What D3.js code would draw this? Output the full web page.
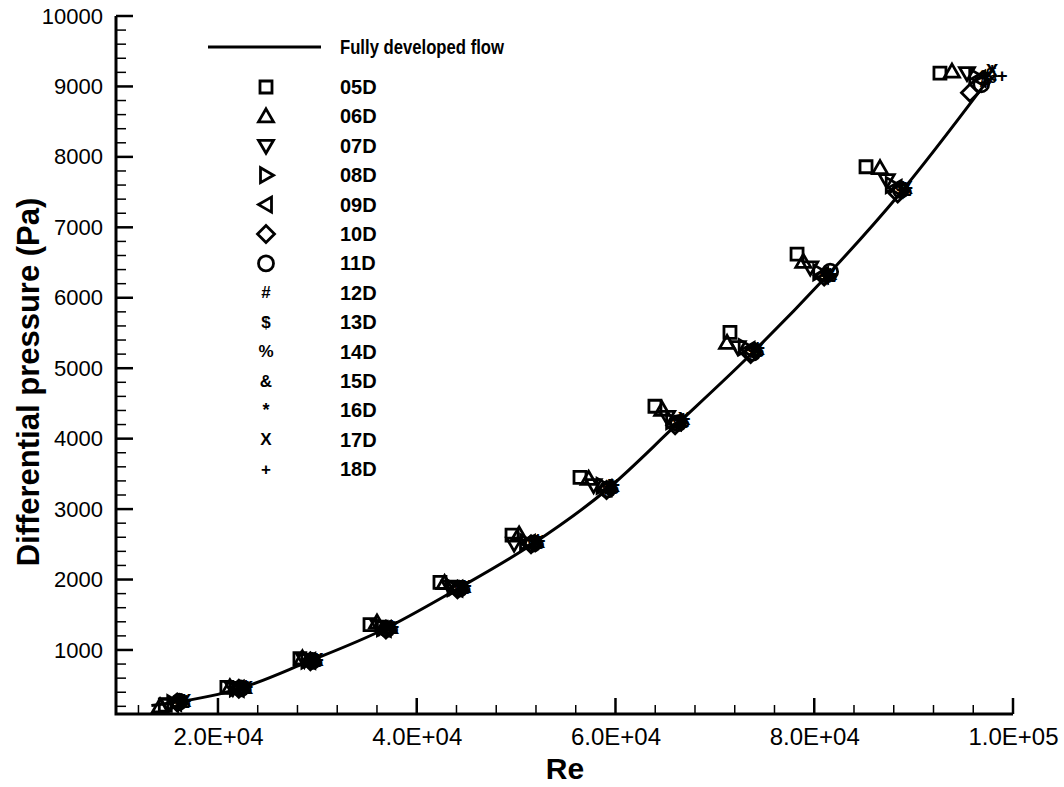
<!DOCTYPE html>
<html><head><meta charset="utf-8">
<script src="https://cdn.jsdelivr.net/npm/d3@7"></script>
<style>
html,body{margin:0;padding:0;background:#fff;}
svg{display:block;}
text{font-family:"Liberation Sans",Arial,sans-serif;fill:#000;}
</style></head>
<body>
<svg id="chart" width="1064" height="787"></svg>
<script>
// ---- data ----
const curveRe = [13300, 16000, 20000, 22000, 29000, 36500, 44000, 51500, 59000, 66000, 73500, 81000, 88500, 97000];
const curveDp = [210, 265, 370, 445, 830, 1280, 1860, 2490, 3260, 4180, 5180, 6270, 7460, 9000];

const seriesNames = ["05D","06D","07D","08D","09D","10D","11D","12D","13D","14D","15D","16D","17D","18D"];
const seriesSymbols = ["square","triUp","triDown","triRight","triLeft","diamond","circle","#","$","%","&","*","X","+"];

const re05 = [14700, 20900, 28250, 35300, 42340, 49590, 56430, 63970, 71520, 78270, 85210, 92650];
const dp05 = [215, 470, 875, 1360, 1960, 2630, 3450, 4460, 5510, 6620, 7860, 9190];
const re06 = [14170, 21200, 28500, 36000, 42800, 50300, 57300, 64700, 71230, 78900, 86620, 93860];
const dp06 = [200, 470, 880, 1390, 1950, 2640, 3430, 4410, 5360, 6510, 7840, 9210];
const re07 = [15000, 21500, 28700, 36200, 43300, 49800, 57800, 65200, 72300, 79600, 87300, 95370];
const dp07 = [230, 460, 860, 1330, 1900, 2510, 3340, 4310, 5300, 6430, 7670, 9190];
const re08 = [15500, 21800, 29000, 36600, 43700, 51000, 58700, 65700, 73000, 80500, 87800, 96200];
const dp08 = [245, 455, 850, 1310, 1880, 2530, 3330, 4250, 5300, 6360, 7600, 9140];
const re09 = [15700, 22000, 29200, 36800, 44000, 51300, 59000, 66000, 73400, 80800, 88200, 96600];
const dp09 = [250, 450, 845, 1300, 1870, 2520, 3300, 4230, 5260, 6320, 7560, 9110];
const re10 = [15900, 22100, 29300, 36900, 44100, 51500, 59100, 66000, 73600, 81000, 88400, 95670];
const dp10 = [255, 450, 840, 1290, 1860, 2500, 3270, 4190, 5200, 6300, 7480, 8910];
const re11 = [16100, 22300, 29500, 37000, 44300, 51700, 59200, 66300, 73800, 81600, 88700, 96800];
const dp11 = [265, 455, 845, 1300, 1870, 2510, 3280, 4220, 5220, 6370, 7530, 9030];
const re12 = [16200, 22400, 29500, 37100, 44400, 51800, 59300, 66400, 73900, 81200, 88800, 97100];
const dp12 = [268, 460, 850, 1310, 1880, 2520, 3290, 4230, 5230, 6290, 7510, 9080];
const re13 = [16300, 22500, 29600, 37200, 44500, 51900, 59400, 66500, 74000, 81300, 88900, 97300];
const dp13 = [270, 462, 852, 1312, 1885, 2525, 3300, 4240, 5240, 6300, 7520, 9110];
const re14 = [16400, 22600, 29700, 37300, 44600, 52000, 59500, 66600, 74100, 81400, 89000, 97500];
const dp14 = [272, 465, 855, 1315, 1890, 2530, 3310, 4250, 5250, 6310, 7530, 9140];
const re15 = [16500, 22700, 29800, 37400, 44700, 52100, 59600, 66700, 74200, 81500, 89100, 97700];
const dp15 = [275, 468, 858, 1320, 1895, 2535, 3320, 4260, 5260, 6320, 7540, 9170];
const re16 = [16600, 22800, 29900, 37500, 44800, 52200, 59700, 66800, 74300, 81600, 89200, 97900];
const dp16 = [278, 470, 860, 1322, 1900, 2540, 3330, 4270, 5270, 6330, 7550, 9200];
const re17 = [16700, 22900, 30000, 37600, 44900, 52300, 59800, 66900, 74400, 81700, 89300, 97890];
const dp17 = [280, 472, 862, 1325, 1905, 2545, 3340, 4280, 5280, 6340, 7560, 9230];
const re18 = [16800, 23000, 30100, 37700, 45000, 52400, 59900, 67000, 74500, 81800, 89400, 98900];
const dp18 = [282, 475, 865, 1330, 1910, 2550, 3350, 4290, 5290, 6350, 7570, 9150];

const seriesRe = [re05,re06,re07,re08,re09,re10,re11,re12,re13,re14,re15,re16,re17,re18];
const seriesDp = [dp05,dp06,dp07,dp08,dp09,dp10,dp11,dp12,dp13,dp14,dp15,dp16,dp17,dp18];

const xMajorTicks = [20000, 40000, 60000, 80000, 100000];
const xTickLabels = ["2.0E+04","4.0E+04","6.0E+04","8.0E+04","1.0E+05"];
const yMajorTicks = [1000,2000,3000,4000,5000,6000,7000,8000,9000,10000];

// ---- layout ----
const svg = d3.select("#chart");
const x = d3.scaleLinear().domain([9740, 100000]).range([116, 1013]);
const y = d3.scaleLinear().domain([91, 10000]).range([714, 16]);

const xMinor = d3.range(12000, 100001, 4000).filter(v => !xMajorTicks.includes(v));
const yMinor = d3.range(200, 10001, 200).filter(v => !yMajorTicks.includes(v));

// axes
const gx = svg.append("g").attr("transform", `translate(0,${y.range()[0]})`);
gx.call(d3.axisBottom(x).tickValues(xMajorTicks).tickSize(0).tickPadding(14)
  .tickFormat((d,i) => xTickLabels[i]));
gx.select(".domain").remove();
gx.selectAll("text").attr("font-size", 24).attr("font-family", "Liberation Sans, Arial, sans-serif");

const gy = svg.append("g").attr("transform", `translate(${x.range()[0]},0)`);
gy.call(d3.axisLeft(y).tickValues(yMajorTicks).tickSize(0).tickPadding(13)
  .tickFormat(d3.format("d")));
gy.select(".domain").remove();
gy.selectAll("text").attr("font-size", 22).attr("font-family", "Liberation Sans, Arial, sans-serif");

// tick marks (pointing inward)
const tk = svg.append("g").attr("stroke", "#000");
tk.selectAll(".xmaj").data(xMajorTicks).join("line")
  .attr("x1", d => x(d)).attr("x2", d => x(d))
  .attr("y1", y.range()[0]).attr("y2", y.range()[0] - 16).attr("stroke-width", 2.5);
tk.selectAll(".xmin").data(xMinor).join("line")
  .attr("x1", d => x(d)).attr("x2", d => x(d))
  .attr("y1", y.range()[0]).attr("y2", y.range()[0] - 9).attr("stroke-width", 1.5);
tk.selectAll(".ymaj").data(yMajorTicks).join("line")
  .attr("y1", d => y(d)).attr("y2", d => y(d))
  .attr("x1", x.range()[0]).attr("x2", x.range()[0] + 17).attr("stroke-width", 2.5);
tk.selectAll(".ymin").data(yMinor).join("line")
  .attr("y1", d => y(d)).attr("y2", d => y(d))
  .attr("x1", x.range()[0]).attr("x2", x.range()[0] + 10).attr("stroke-width", 1.5);

// axis lines
svg.append("path")
  .attr("d", `M${x.range()[0]},${y.range()[1]}V${y.range()[0]}H${x.range()[1]}`)
  .attr("fill", "none").attr("stroke", "#000").attr("stroke-width", 3);

// axis titles
svg.append("text").attr("x", 565).attr("y", 779)
  .attr("text-anchor", "middle").attr("font-size", 30).attr("font-weight", "bold").text("Re");
svg.append("text").attr("transform", `translate(39,382) rotate(-90)`)
  .attr("text-anchor", "middle").attr("font-size", 31).attr("font-weight", "bold")
  .text("Differential pressure (Pa)");

// curve
const line = d3.line().x((d,i) => x(curveRe[i])).y(d => y(d)).curve(d3.curveMonotoneX);
svg.append("path").attr("d", line(curveDp)).attr("fill", "none")
  .attr("stroke", "#000").attr("stroke-width", 3);

// symbol drawing
function drawSymbol(g, sym, cx, cy, big) {
  const s = 6;
  let p = null;
  switch (sym) {
    case "square": p = `M${cx-s},${cy-s}h${2*s}v${2*s}h${-2*s}Z`; break;
    case "triUp": p = `M${cx},${cy-7.5}L${cx+7.5},${cy+5.5}L${cx-7.5},${cy+5.5}Z`; break;
    case "triDown": p = `M${cx},${cy+7.5}L${cx+7.5},${cy-5.5}L${cx-7.5},${cy-5.5}Z`; break;
    case "triRight": p = `M${cx+7.5},${cy}L${cx-5.5},${cy+7.5}L${cx-5.5},${cy-7.5}Z`; break;
    case "triLeft": p = `M${cx-7.5},${cy}L${cx+5.5},${cy+7.5}L${cx+5.5},${cy-7.5}Z`; break;
    case "diamond": p = `M${cx},${cy-8.5}L${cx+8.5},${cy}L${cx},${cy+8.5}L${cx-8.5},${cy}Z`; break;
  }
  if (p) {
    g.append("path").attr("d", p).attr("fill", "none").attr("stroke", "#000")
      .attr("stroke-width", 2.8).attr("stroke-linejoin", "miter");
  } else if (sym === "circle") {
    g.append("circle").attr("cx", cx).attr("cy", cy).attr("r", 7.5)
      .attr("fill", "none").attr("stroke", "#000").attr("stroke-width", 2.8);
  } else {
    const fs = big ? 19 : 17;
    g.append("text").attr("x", cx).attr("y", cy).attr("text-anchor", "middle")
      .attr("dominant-baseline", "central").attr("font-size", sym === "*" ? fs + 1 : fs)
      .attr("font-weight", "bold").text(sym);
  }
}

// data markers
const gm = svg.append("g");
seriesNames.forEach((name, si) => {
  const g = gm.append("g").attr("class", "series-" + name);
  seriesRe[si].forEach((re, i) => {
    drawSymbol(g, seriesSymbols[si], x(re), y(seriesDp[si][i]), true);
  });
});

// legend
const lg = svg.append("g");
lg.append("line").attr("x1", 208).attr("x2", 321).attr("y1", 47).attr("y2", 47)
  .attr("stroke", "#000").attr("stroke-width", 3);
lg.append("text").attr("x", 340).attr("y", 47).attr("dominant-baseline", "central")
  .attr("font-size", 20).attr("font-weight", "bold")
  .attr("textLength", 164).attr("lengthAdjust", "spacingAndGlyphs")
  .text("Fully developed flow");
seriesNames.forEach((name, i) => {
  const yy = 87 + i * 29.4;
  drawSymbol(lg, seriesSymbols[i], 266, yy, false);
  lg.append("text").attr("x", 340).attr("y", yy).attr("dominant-baseline", "central")
    .attr("font-size", 20).attr("font-weight", "bold").text(name);
});
</script>
</body></html>
